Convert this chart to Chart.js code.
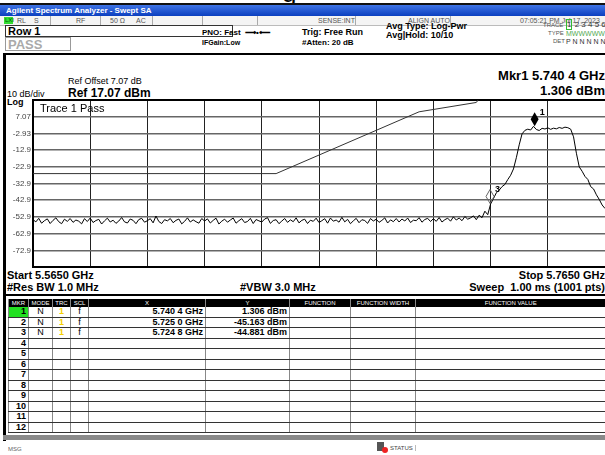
<!DOCTYPE html>
<html>
<head>
<meta charset="utf-8">
<script src="https://cdn.jsdelivr.net/npm/chart.js@4.4.0/dist/chart.umd.min.js"></script>
<style>
  body { margin: 0; width: 605px; height: 455px; overflow: hidden; background: #fff; position: relative;
         font-family: "Liberation Sans", Arial, sans-serif; color: #000; }
  .a { position: absolute; white-space: nowrap; line-height: 1; }
  .b { font-weight: bold; }
  .sm { font-size: 7px; color: #555; }
  .div { position: absolute; top: 16px; height: 9px; width: 1px; background: #aaa; }
  #tbl { position: absolute; left: 8px; top: 299px; width: 597px; border-collapse: collapse; table-layout: fixed; }
  #tbl th { background: #000; color: #fff; font-size: 6px; font-weight: normal; height: 8px; padding: 0;
            border-left: 1px solid #888; line-height: 8px; }
  #tbl td { height: 9.5px; padding: 0 2px; font-size: 9px; font-weight: bold; line-height: 9px;
            border-left: 1px solid #888; border-bottom: 1px solid #333; text-align: center; overflow: hidden; }
  #tbl td.r { text-align: right; }
</style>
</head>
<body>
<div class="a" style="left:282px; top:-20px; font-size:26px;">g</div>

<!-- title bar -->
<div class="a" style="left:0; top:3px; width:605px; height:2px; background:#111;"></div>
<div class="a" style="left:0; top:5px; width:605px; height:11px; background:linear-gradient(#3f74e6, #0b3fbf);"></div>
<div class="a b" style="left:6px; top:7px; font-size:8px; color:#fff;">Agilent Spectrum Analyzer - Swept SA</div>

<!-- status row -->
<div class="a" style="left:0; top:16px; width:605px; height:9px; background:#f4f4f4; border-bottom:1px solid #bbb;"></div>
<div class="a" style="left:4px; top:17px; width:9px; height:7px; background:#33dd33;"></div>
<div class="a sm" style="left:5px; top:17px; font-size:6px; color:#050;">LXI</div>
<div class="a sm" style="left:17px; top:17px;">RL</div>
<div class="a sm" style="left:34px; top:17px;">S</div>
<div class="div" style="left:50px;"></div>
<div class="a sm" style="left:76px; top:17px;">RF</div>
<div class="div" style="left:100px;"></div>
<div class="a sm" style="left:110px; top:17px;">50 Ω</div>
<div class="a sm" style="left:136px; top:17px;">AC</div>
<div class="div" style="left:152px;"></div>
<div class="div" style="left:202px;"></div>
<div class="div" style="left:257px;"></div>
<div class="a sm" style="left:318px; top:17px;">SENSE:INT</div>
<div class="div" style="left:355px;"></div>
<div class="a sm" style="left:408px; top:17px;">ALIGN AUTO</div>
<div class="div" style="left:450px;"></div>
<div class="a sm" style="left:520px; top:17px;">07:05:21 PM Jul 17, 2023</div>

<!-- measurement bar -->
<div class="a b" style="left:5px; top:25px; width:224px; height:10px; border:1px solid #333; font-size:11px; padding-left:2px;">Row 1</div>
<div class="a b" style="left:5px; top:37px; width:62px; height:12px; border:1px solid #999; font-size:13px; color:#aaa; padding-left:2px;">PASS</div>
<div class="a b" style="left:202px; top:29px; font-size:8px;">PNO: Fast &nbsp;⟶•⟵</div>
<div class="a b" style="left:202px; top:39px; font-size:7px;">IFGain:Low</div>
<div class="a b" style="left:302px; top:28px; font-size:9px;">Trig: Free Run</div>
<div class="a b" style="left:302px; top:39px; font-size:8px;">#Atten: 20 dB</div>
<div class="a b" style="left:386px; top:22px; font-size:9px;">Avg Type: Log-Pwr</div>
<div class="a b" style="left:386px; top:31px; font-size:9px;">Avg|Hold: 10/10</div>
<div class="a sm" style="left:543px; top:22px; font-size:6px;">TRACE</div>
<div class="a" style="left:566px; top:21px; font-size:8px; color:#333;"><span style="border:1px solid #3b3;">1</span> 2 3 4 5 6</div>
<div class="a sm" style="left:548px; top:30px; font-size:6px;">TYPE</div>
<div class="a" style="left:566px; top:30px; font-size:7px; color:#5a5;">MWWWWW</div>
<div class="a sm" style="left:553px; top:38px; font-size:6px;">DET</div>
<div class="a" style="left:566px; top:38px; font-size:7px; color:#333;">P N N N N N</div>

<!-- graph panel frame -->
<div class="a" style="left:3px; top:53px; width:602px; height:2px; background:#000;"></div>
<div class="a" style="left:3px; top:53px; width:3px; height:388px; background:#000;"></div>
<div class="a" style="left:3px; top:294px; width:602px; height:2px; background:#000;"></div>

<div class="a b" style="right:0; top:69px; font-size:13px;">Mkr1 5.740 4 GHz</div>
<div class="a b" style="right:0; top:84px; font-size:13px;">1.306 dBm</div>
<div class="a" style="left:68px; top:77px; font-size:9px;">Ref Offset 7.07 dB</div>
<div class="a b" style="left:68px; top:87px; font-size:12px;">Ref 17.07 dBm</div>
<div class="a" style="left:7px; top:90px; font-size:9px;">10 dB/div</div>
<div class="a b" style="left:7px; top:98px; font-size:9px;">Log</div>

<div class="a" style="left:5px; top:97px; width:600px; height:172px;">
  <canvas id="spectrum" width="600" height="172"></canvas>
</div>
<div class="a" style="left:40px; top:103px; font-size:11px;">Trace 1 Pass</div>

<div class="a b" style="left:7px; top:270px; font-size:11px;">Start 5.5650 GHz</div>
<div class="a b" style="left:7px; top:282px; font-size:11px;">#Res BW 1.0 MHz</div>
<div class="a b" style="left:240px; top:282px; font-size:11px;">#VBW 3.0 MHz</div>
<div class="a b" style="right:0; top:270px; font-size:11px;">Stop 5.7650 GHz</div>
<div class="a b" style="right:0; top:282px; font-size:11px;">Sweep&nbsp; 1.00 ms (1001 pts)</div>

<table id="tbl">
  <colgroup>
    <col style="width:20px"><col style="width:24px"><col style="width:18px"><col style="width:18px">
    <col style="width:117px"><col style="width:84px"><col style="width:61px"><col style="width:65px"><col style="width:190px">
  </colgroup>
  <thead><tr><th>MKR</th><th>MODE</th><th>TRC</th><th>SCL</th><th>X</th><th>Y</th><th>FUNCTION</th><th>FUNCTION WIDTH</th><th>FUNCTION VALUE</th></tr></thead>
  <tbody id="rows"></tbody>
</table>
<div class="a" style="left:3px; top:435px; width:602px; height:5px; background:#8a8a8a;"></div>
<div class="a sm" style="left:8px; top:446px; font-size:6px; color:#666;">MSG</div>
<div class="a" style="left:377px; top:442px; width:7px; height:9px; background:#555;"></div>
<div class="a" style="left:382px; top:447px; width:6px; height:6px; border-radius:50%; background:#e22;"></div>
<div class="a sm" style="left:390px; top:445px; font-size:6px; color:#444; border-right:1px solid #bbb; padding-right:2px;">STATUS</div>

<script>
// sweep setup
const startMHz = 5565;
const stopMHz = 5765;
const stepMHz = 1;
const xTicks = [5565, 5585, 5605, 5625, 5645, 5665, 5685, 5705, 5725, 5745, 5765];
const yTicks = [17.07, 7.07, -2.93, -12.93, -22.93, -32.93, -42.93, -52.93, -62.93, -72.93, -82.93];
const yTickLabels = ["", "7.07", "-2.93", "-12.9", "-22.9", "-32.9", "-42.9", "-52.9", "-62.9", "-72.9", ""];

// trace 1, dBm, one value per MHz from 5565 to 5765
const traceLevels = [
  -54.6, -55.9, -53.8, -56.7, -55.2, -54.1, -56.9, -55.0, -53.5, -55.8, -57.0, -54.3, -55.6, -53.9, -56.2, -54.8, -55.5, -57.1, -54.0, -55.7,
  -53.6, -56.3, -55.1, -54.4, -57.2, -55.3, -53.7, -56.0, -54.9, -56.8, -55.4, -53.3, -55.9, -56.6, -54.2, -55.0, -57.0, -54.5, -53.8, -56.1,
  -55.2, -54.0, -56.5, -52.4, -55.7, -56.9, -54.6, -55.3, -53.9, -56.4, -55.0, -54.2, -57.1, -55.6, -53.5, -56.0, -54.7, -55.8, -56.7, -53.9,
  -55.4, -54.1, -56.6, -55.0, -53.7, -57.2, -55.5, -54.3, -56.1, -54.8, -53.6, -56.7, -55.2, -54.0, -56.3, -55.7, -53.8, -56.9, -54.5, -55.3,
  -56.0, -54.2, -53.4, -56.8, -55.1, -54.6, -57.0, -55.4, -53.9, -56.2, -54.7, -55.8, -53.5, -56.5, -55.0, -54.3, -56.9, -54.9, -55.6, -53.7,
  -56.3, -55.2, -54.0, -56.7, -53.6, -55.5, -54.8, -56.1, -53.2, -55.9, -54.4, -57.0, -55.3, -53.8, -56.4, -54.6, -55.1, -56.8, -53.9, -55.4,
  -54.3, -56.2, -55.0, -53.5, -56.6, -54.7, -55.8, -53.9, -56.0, -54.2, -55.4, -53.6, -56.3, -54.9, -55.2, -53.4, -56.1, -54.5, -53.8, -55.7,
  -54.0, -55.6, -53.3, -56.0, -54.6, -53.7, -55.5, -52.9, -54.8, -53.6, -55.2, -52.7, -54.3, -53.5, -52.3, -54.6, -51.9, -53.4, -49.5, -51.6,
  -45.2, -42.0, -38.5, -36.9, -34.8, -33.5, -30.6, -28.0, -24.2, -17.5, -9.8, -3.2, -1.1, -0.4, -0.9, 1.3, -0.6, -1.2, 0.1, -0.3,
  0.4, -0.5, 0.2, -0.2, 0.6, 0.1, 0.8, 0.5, -0.4, -5.0, -14.8, -23.0, -25.6, -28.7, -30.5, -34.8, -36.2, -39.7, -42.5, -45.8,
  -47.9
];
const traceFreqs = traceLevels.map((_, i) => startMHz + i * stepMHz);

// FCC mask limit line (dBm)
const limitFreqs = [5565, 5650, 5700, 5720, 5725, 5765];
const limitLevels = [-27, -27, 10, 15.6, 27, 27];

// markers
const markerFreqs = [5740.4, 5725.0, 5724.8];
const markerLevels = [1.306, -45.163, -44.881];
const shownMarkers = [0, 2];

// marker table
const rowsEl = document.getElementById("rows");
for (let r = 0; r < 12; r++) {
  const tr = document.createElement("tr");
  let cells = ["", "", "", "", "", "", "", "", ""];
  if (r < markerFreqs.length) {
    const f = (markerFreqs[r] / 1000).toFixed(4);
    cells = ["", "N", "1", "f", f.slice(0, 5) + " " + f.slice(5) + " GHz", markerLevels[r].toFixed(3) + " dBm", "", "", ""];
  }
  cells[0] = String(r + 1);
  cells.forEach((c, i) => {
    const td = document.createElement("td");
    td.textContent = c;
    if (i === 0) { td.className = "r"; if (r === 0) td.style.background = "#22e022"; }
    if (i === 4 || i === 5) td.className = "r";
    if (i === 2) td.style.color = "#f5d000";
    if (i === 1 || i === 3) td.style.fontWeight = "normal";
    tr.appendChild(td);
  });
  rowsEl.appendChild(tr);
}

const markerPlugin = {
  id: "markers",
  afterDatasetsDraw(chart) {
    const { ctx, scales: { x, y } } = chart;
    shownMarkers.forEach((i) => {
      const px = x.getPixelForValue(markerFreqs[i]);
      const py = y.getPixelForValue(markerLevels[i]);
      ctx.save();
      ctx.beginPath();
      ctx.moveTo(px, py);
      ctx.lineTo(px + 4, py - 7);
      ctx.lineTo(px, py - 14);
      ctx.lineTo(px - 4, py - 7);
      ctx.closePath();
      if (i === 0) {
        ctx.fillStyle = "#000";
        ctx.fill();
      } else {
        ctx.strokeStyle = "#666";
        ctx.lineWidth = 1;
        ctx.stroke();
      }
      ctx.font = 'bold 9px "Liberation Sans"';
      ctx.fillStyle = "#000";
      ctx.fillText(String(i + 1), px + 5, py - 11);
      ctx.restore();
    });
  },
};

const ctx = document.getElementById("spectrum").getContext("2d");
new Chart(ctx, {
  type: "line",
  data: {
    datasets: [
      {
        data: traceFreqs.map((f, i) => ({ x: f, y: traceLevels[i] })),
        borderColor: "#000",
        borderWidth: 1,
        pointRadius: 0,
        tension: 0,
      },
      {
        data: limitFreqs.map((f, i) => ({ x: f, y: limitLevels[i] })),
        borderColor: "#333",
        borderWidth: 1,
        pointRadius: 0,
        tension: 0,
      },
    ],
  },
  options: {
    responsive: false,
    animation: false,
    devicePixelRatio: 1,
    layout: { padding: { top: 3, right: 0, bottom: 2, left: 0 } },
    plugins: { legend: { display: false }, tooltip: { enabled: false } },
    scales: {
      x: {
        type: "linear",
        min: startMHz,
        max: stopMHz,
        afterBuildTicks: (s) => { s.ticks = xTicks.map((v) => ({ value: v })); },
        afterFit: (s) => { s.height = 0; s.paddingLeft = 0; s.paddingRight = 0; },
        ticks: { display: false },
        grid: { color: "#222", lineWidth: 1, drawTicks: false },
        border: { display: true, color: "#000", width: 2 },
      },
      y: {
        min: -82.93,
        max: 17.07,
        afterBuildTicks: (s) => { s.ticks = yTicks.map((v) => ({ value: v })); },
        afterFit: (s) => { s.width = 28; s.paddingTop = 0; s.paddingBottom = 0; },
        ticks: {
          callback: (v) => yTickLabels[yTicks.indexOf(v)],
          font: { size: 8, family: "Liberation Sans" },
          color: "#444",
          padding: 2,
        },
        grid: {
          color: (c) => (c.tick && c.tick.value === 17.07 ? "#000" : "#666"),
          lineWidth: (c) => (c.tick && c.tick.value === 17.07 ? 2 : 1.5),
          drawTicks: false,
        },
        border: { display: true, color: "#000", width: 2 },
      },
    },
  },
  plugins: [markerPlugin],
});
</script>
</body>
</html>
